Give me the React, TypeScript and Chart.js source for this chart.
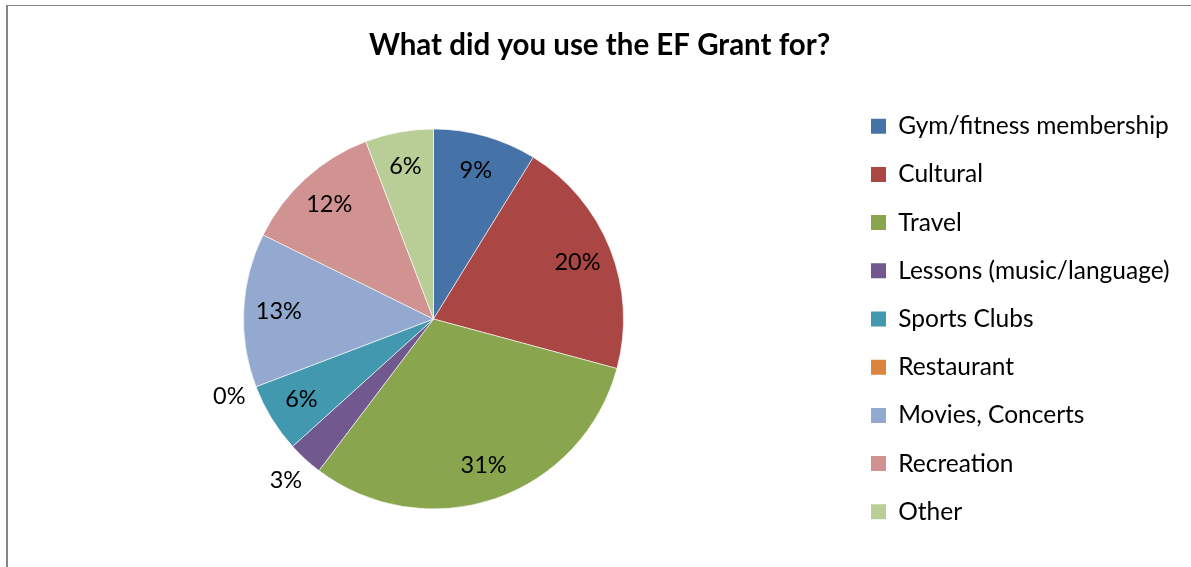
import React, { useEffect, useRef } from 'react';
import { Chart, registerables } from 'chart.js';

Chart.register(...registerables);

// ---- data ----
const titleText = 'What did you use the EF Grant for?';
const categories = [
  'Gym/fitness membership',
  'Cultural',
  'Travel',
  'Lessons (music/language)',
  'Sports Clubs',
  'Restaurant',
  'Movies, Concerts',
  'Recreation',
  'Other',
];
const shares = [8.8, 20.4, 31.1, 3.0, 5.9, 0, 13.1, 11.9, 5.8];
const colors = ['#4572A7', '#AA4643', '#89A54E', '#71588F', '#4198AF', '#DB843D', '#93A9CF', '#D19392', '#B9CD96'];

// ---- style ----
const W = 1191;
const H = 567;
const FONT = 'Lato';
const TITLE_SIZE = 29.5;
const LEGEND_SIZE = 24.5;
const LABEL_SIZE = 23.5;
const ROW = 48.2;
const BOX = 15;
const BOX_LEFT = 871;
const CENTER_X = 433.5;
const RADIUS = 190;
const TITLE_MID = 45;
const AREA_TOP = 81;

const labelPlugin = {
  id: 'sliceLabels',
  afterDatasetsDraw(chart: any) {
    const ctx = chart.ctx;
    const meta = chart.getDatasetMeta(0);
    const data = chart.data.datasets[0].data as number[];
    const total = data.reduce((a, b) => a + b, 0);
    ctx.save();
    ctx.font = `${LABEL_SIZE}px ${FONT}`;
    ctx.fillStyle = '#000';
    ctx.textAlign = 'center';
    ctx.textBaseline = 'middle';
    meta.data.forEach((arc: any, i: number) => {
      const { x, y, startAngle, endAngle, outerRadius } = arc.getProps(
        ['x', 'y', 'startAngle', 'endAngle', 'outerRadius'],
        true
      );
      const mid = (startAngle + endAngle) / 2;
      const frac = data[i] / total;
      const r = frac < 0.04 ? outerRadius * 1.15 : outerRadius * 0.815;
      ctx.fillText(`${Math.round(frac * 100)}%`, x + Math.cos(mid) * r, y + Math.sin(mid) * r);
    });
    ctx.restore();
  },
};

export default function App() {
  const ref = useRef<HTMLCanvasElement | null>(null);

  useEffect(() => {
    if (!ref.current) return;
    const m = document.createElement('canvas').getContext('2d')!;
    m.font = `${LEGEND_SIZE}px ${FONT}`;
    const maxText = Math.max(...categories.map((c) => m.measureText(c).width));
    const pad = ROW - LEGEND_SIZE;
    const legendLeft = BOX_LEFT - pad;
    const legendRight = legendLeft + pad + BOX + LEGEND_SIZE / 2 + maxText + 10;
    const padRight = W - legendRight;
    const padLeft = 2 * CENTER_X - legendLeft;
    const titleLine = TITLE_SIZE * 1.2;
    const titleTop = TITLE_MID - titleLine / 2;
    const titleBottom = AREA_TOP - titleTop - titleLine;

    const chart = new Chart(ref.current, {
      type: 'pie',
      data: {
        labels: categories,
        datasets: [
          {
            data: shares,
            backgroundColor: colors,
            borderColor: '#ffffff',
            borderWidth: (c: any) => (c.raw === 0 ? 0 : 0.6),
            hoverOffset: 0,
          },
        ],
      },
      options: {
        responsive: false,
        devicePixelRatio: 1,
        animation: false,
        radius: RADIUS,
        layout: { padding: { left: padLeft, right: padRight, top: 0, bottom: 10 } },
        plugins: {
          title: {
            display: true,
            text: titleText,
            color: '#000',
            font: { family: FONT, size: TITLE_SIZE, weight: 'bold', lineHeight: 1.2 },
            padding: { top: titleTop, bottom: titleBottom },
          },
          legend: {
            position: 'right',
            align: 'center',
            fullSize: false,
            labels: {
              boxWidth: BOX,
              boxHeight: BOX,
              padding: pad,
              color: '#000',
              font: { family: FONT, size: LEGEND_SIZE },
              generateLabels: (ch: any) =>
                (Chart as any).overrides.pie.plugins.legend.labels
                  .generateLabels(ch)
                  .map((l: any) => ({ ...l, lineWidth: 0 })),
            },
          },
          tooltip: { enabled: false },
        },
      } as any,
      plugins: [labelPlugin],
    });
    return () => chart.destroy();
  }, []);

  return (
    <div style={{ position: 'fixed', left: 0, top: 0, width: W, height: H, overflow: 'hidden', background: '#fff' }}>
      <div
        style={{
          position: 'absolute',
          left: 6,
          top: 5,
          width: 1300,
          height: 700,
          borderTop: '1px solid #868686',
          borderLeft: '2px solid #868686',
        }}
      />
      <canvas ref={ref} width={W} height={H} style={{ position: 'absolute', left: 0, top: 0 }} />
    </div>
  );
}
